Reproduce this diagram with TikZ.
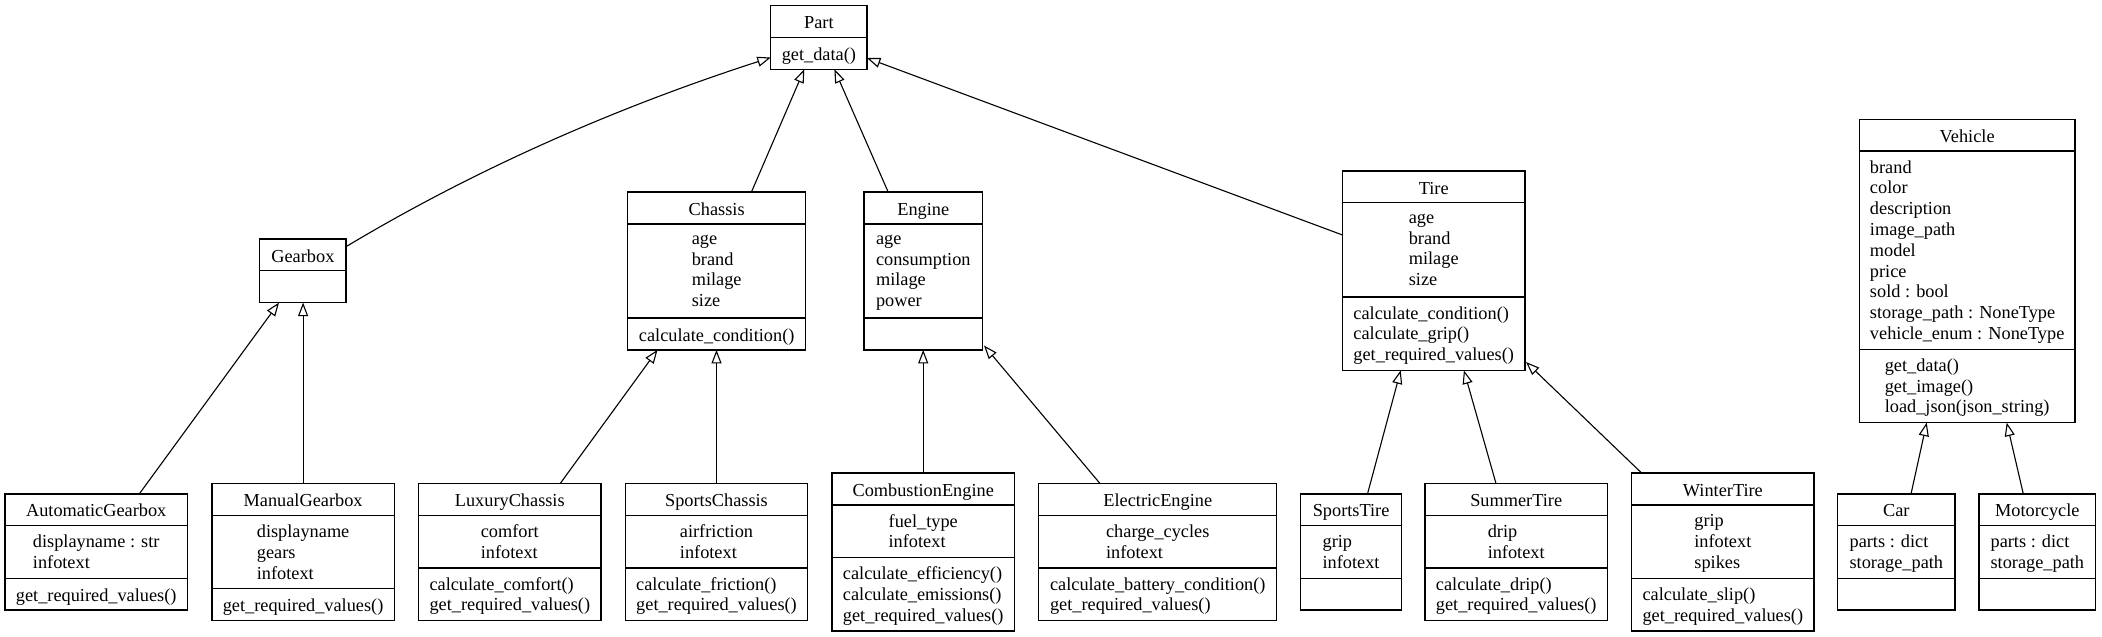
\documentclass[tikz,border=0pt]{standalone}
\usepackage{fontspec}
\setmainfont{Liberation Serif}
\usetikzlibrary{arrows.meta,calc}
\newcommand{\umlframe}[6]{%
  \node[classframe, minimum width=#4, minimum height=#5, anchor=north] (#1) at (#2,#3) {};
  \foreach \o in {#6} \draw[sepline] ($(#1.north west)+(0,\o)$) -- ($(#1.north east)+(0,\o)$);
}
\tikzset{
  classframe/.style={draw=black, line width=1.3pt, fill=white, inner sep=0pt, outer sep=0pt},
  sepline/.style={draw=black, line width=1.3pt},
  txtbase/.style={inner sep=0pt, outer sep=0pt, font=\fontsize{18.3}{20.8}\selectfont,
    execute at begin node=\strut, execute at end node=\strut, yshift=-3pt},
  ttl/.style={txtbase, align=center},
  body/.style={txtbase, align=left},
  inherit/.style={draw=black, line width=1.1pt, -{Triangle[open, length=13.5pt, width=10pt]}}
}
\begin{document}
\begin{tikzpicture}[x=1pt, y=-1pt]
\fill[white] (0,0) rectangle (2102,637);
\useasboundingbox (0,0) rectangle (2102,637);

% ---------- frames ----------
\umlframe{part}{818.85}{5.7}{96.1}{63.6}{31.8}
\umlframe{gearbox}{302.9}{239}{86.2}{63.6}{31.8}
\umlframe{chassis}{716.7}{192.1}{178}{157.8}{31.8,126}
\umlframe{engine}{923.3}{192.1}{118.6}{157.8}{31.8,126}
\umlframe{tire}{1433.7}{171}{182.4}{199.4}{31.8,126}
\umlframe{vehicle}{1967.15}{119.2}{215.7}{303.4}{31.8,230}
\umlframe{autogb}{96.2}{493.9}{182.6}{116.2}{31.8,84.4}
\umlframe{manualgb}{303.1}{483.5}{182.2}{137}{31.8,105.2}
\umlframe{luxury}{509.8}{483.5}{182.2}{137}{31.8,84.4}
\umlframe{sportsch}{716.5}{483.5}{182.2}{137}{31.8,84.4}
\umlframe{combustion}{923.2}{473.1}{182.2}{157.8}{31.8,84.4}
\umlframe{electric}{1157.75}{483.5}{237.9}{137}{31.8,84.4}
\umlframe{sportstire}{1351.1}{493.9}{101.4}{116.2}{31.8,84.4}
\umlframe{summertire}{1516.2}{483.5}{182.4}{137}{31.8,84.4}
\umlframe{wintertire}{1722.85}{473.1}{182.5}{157.8}{31.8,105.2}
\umlframe{car}{1896.35}{493.9}{117.3}{116.2}{31.8,84.4}
\umlframe{moto}{2037.35}{493.9}{116.7}{116.2}{31.8,84.4}

% ---------- texts ----------
\node[ttl] (part-t) at (818.85,21.6) {Part};
\node[body] (part-o) at (818.85,53.4) {get\_data()};

\node[ttl] (gearbox-t) at (302.9,254.9) {Gearbox};

\node[ttl] (chassis-t) at (716.7,208) {Chassis};
\node[body] (chassis-a) at (716.7,271) {age\\brand\\milage\\size};
\node[body] (chassis-o) at (716.7,334) {calculate\_condition()};

\node[ttl] (engine-t) at (923.3,208) {Engine};
\node[body] (engine-a) at (923.3,271) {age\\consumption\\milage\\power};

\node[ttl] (tire-t) at (1433.7,186.9) {Tire};
\node[body] (tire-a) at (1433.7,249.9) {age\\brand\\milage\\size};
\node[body] (tire-o) at (1433.7,333.7) {calculate\_condition()\\calculate\_grip()\\get\_required\_values()};

\node[ttl] (vehicle-t) at (1967.15,135.1) {Vehicle};
\node[body] (vehicle-a) at (1967.15,250.1) {brand\\color\\description\\image\_path\\model\\price\\sold : bool\\storage\_path : NoneType\\vehicle\_enum : NoneType};
\node[body] (vehicle-o) at (1967.15,385.9) {get\_data()\\get\_image()\\load\_json(json\_string)};

\node[ttl] (autogb-t) at (96.2,509.8) {AutomaticGearbox};
\node[body] (autogb-a) at (96.2,552) {displayname : str\\infotext};
\node[body] (autogb-o) at (96.2,594.2) {get\_required\_values()};

\node[ttl] (manualgb-t) at (303.1,499.4) {ManualGearbox};
\node[body] (manualgb-a) at (303.1,552) {displayname\\gears\\infotext};
\node[body] (manualgb-o) at (303.1,604.6) {get\_required\_values()};

\node[ttl] (luxury-t) at (509.8,499.4) {LuxuryChassis};
\node[body] (luxury-a) at (509.8,541.6) {comfort\\infotext};
\node[body] (luxury-o) at (509.8,594.2) {calculate\_comfort()\\get\_required\_values()};

\node[ttl] (sportsch-t) at (716.5,499.4) {SportsChassis};
\node[body] (sportsch-a) at (716.5,541.6) {airfriction\\infotext};
\node[body] (sportsch-o) at (716.5,594.2) {calculate\_friction()\\get\_required\_values()};

\node[ttl] (combustion-t) at (923.2,489) {CombustionEngine};
\node[body] (combustion-a) at (923.2,531.2) {fuel\_type\\infotext};
\node[body] (combustion-o) at (923.2,594.2) {calculate\_efficiency()\\calculate\_emissions()\\get\_required\_values()};

\node[ttl] (electric-t) at (1157.75,499.4) {ElectricEngine};
\node[body] (electric-a) at (1157.75,541.6) {charge\_cycles\\infotext};
\node[body] (electric-o) at (1157.75,594.2) {calculate\_battery\_condition()\\get\_required\_values()};

\node[ttl] (sportstire-t) at (1351.1,509.8) {SportsTire};
\node[body] (sportstire-a) at (1351.1,552) {grip\\infotext};

\node[ttl] (summertire-t) at (1516.2,499.4) {SummerTire};
\node[body] (summertire-a) at (1516.2,541.6) {drip\\infotext};
\node[body] (summertire-o) at (1516.2,594.2) {calculate\_drip()\\get\_required\_values()};

\node[ttl] (wintertire-t) at (1722.85,489) {WinterTire};
\node[body] (wintertire-a) at (1722.85,541.6) {grip\\infotext\\spikes};
\node[body] (wintertire-o) at (1722.85,604.6) {calculate\_slip()\\get\_required\_values()};

\node[ttl] (car-t) at (1896.35,509.8) {Car};
\node[body] (car-a) at (1896.35,552) {parts : dict\\storage\_path};

\node[ttl] (moto-t) at (2037.35,509.8) {Motorcycle};
\node[body] (moto-a) at (2037.35,552) {parts : dict\\storage\_path};

% ---------- inheritance connectors ----------
\draw[inherit] ($(gearbox.north east)+(0,7.7)$) .. controls +(140,-84) and +(-140,45.2) .. ($(part.north west)+(0,51.8)$);
\draw[inherit] ($(chassis.north west)+(123.7,0)$) -- ($(part.south west)+(33.5,0)$);
\draw[inherit] ($(engine.north west)+(24.2,0)$) -- ($(part.south west)+(63.6,0)$);
\draw[inherit] ($(tire.north west)+(0,64)$) -- ($(part.north east)+(0,52.3)$);

\draw[inherit] ($(autogb.north west)+(134.4,0)$) -- ($(gearbox.south west)+(19.2,0)$);
\draw[inherit] (manualgb.north) -- (manualgb.north |- gearbox.south);

\draw[inherit] ($(luxury.north west)+(141.5,0)$) -- ($(chassis.south west)+(29.8,0)$);
\draw[inherit] (sportsch.north) -- (sportsch.north |- chassis.south);

\draw[inherit] (combustion.north) -- (combustion.north |- engine.south);
\draw[inherit] ($(electric.north west)+(61.2,0)$) -- ($(engine.south east)+(1.4,-4.4)$);

\draw[inherit] ($(sportstire.north west)+(67.1,0)$) -- ($(tire.south west)+(58.2,0)$);
\draw[inherit] ($(summertire.north west)+(71,0)$) -- ($(tire.south west)+(121.4,0)$);
\draw[inherit] ($(wintertire.north west)+(10.1,0)$) -- ($(tire.south east)+(1.1,-8.4)$);

\draw[inherit] ($(car.north west)+(73.3,0)$) -- ($(vehicle.south west)+(67.4,0)$);
\draw[inherit] ($(moto.north west)+(44.3,0)$) -- ($(vehicle.south west)+(147.4,0)$);
\end{tikzpicture}
\end{document}
